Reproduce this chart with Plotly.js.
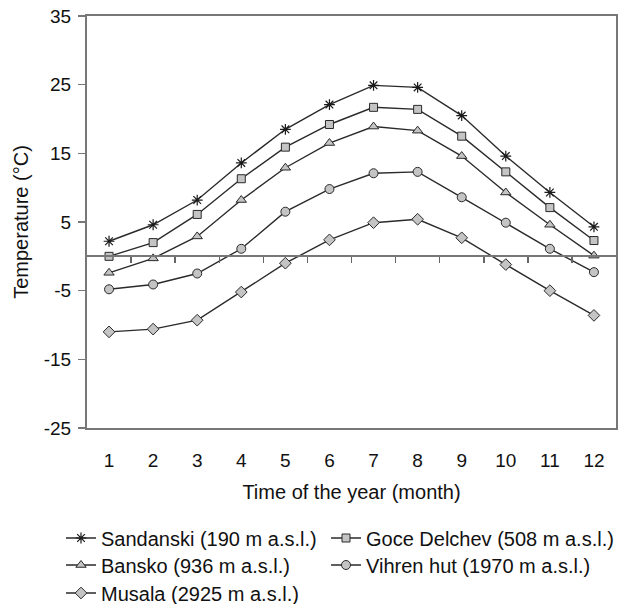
<!DOCTYPE html>
<html>
<head>
<meta charset="utf-8">
<script src="https://cdn.plot.ly/plotly-3.0.1.min.js"></script>
<style>html,body{margin:0;padding:0;background:#fff;}#chart{width:625px;height:604px;}</style>
</head>
<body>
<div id="chart"></div>
<script>
const months = [1, 2, 3, 4, 5, 6, 7, 8, 9, 10, 11, 12];
const monthLabels = ["1","2","3","4","5","6","7","8","9","10","11","12"];
const sandanski   = [2.2, 4.6, 8.2, 13.6, 18.5, 22.1, 24.9, 24.6, 20.5, 14.6, 9.3, 4.3];
const goceDelchev = [0.0, 2.0, 6.1, 11.3, 15.9, 19.2, 21.7, 21.4, 17.5, 12.3, 7.1, 2.3];
const bansko      = [-2.4, -0.3, 2.9, 8.2, 12.9, 16.5, 18.9, 18.3, 14.6, 9.3, 4.6, 0.1];
const vihrenHut   = [-4.8, -4.1, -2.5, 1.1, 6.5, 9.8, 12.1, 12.3, 8.6, 4.9, 1.1, -2.3];
const musala      = [-11.0, -10.6, -9.3, -5.2, -1.0, 2.4, 4.9, 5.4, 2.7, -1.2, -5.0, -8.6];
const names = ["Sandanski (190 m a.s.l.)", "Goce Delchev (508 m a.s.l.)", "Bansko (936 m a.s.l.)", "Vihren hut (1970 m a.s.l.)", "Musala (2925 m a.s.l.)"];
const yTicks = [-25, -15, -5, 5, 15, 25, 35];
const yTickLabels = ["-25", "-15", "-5", "5", "15", "25", "35"];

const FONT = "Liberation Sans, Arial, sans-serif";
const lineStyle = {color: "#2a2a2a", width: 1.4};
const fill = "#c4c4c4";

function tr(y, name, symbol, legend, extraMarker) {
  return {
    x: months, y: y, name: name, type: "scatter", mode: "lines+markers",
    line: lineStyle, legend: legend,
    marker: Object.assign({symbol: symbol, size: 8, color: fill, line: {color: "#2a2a2a", width: 1}}, extraMarker || {})
  };
}

const data = [
  tr(sandanski, names[0], "asterisk-open", "legend", {color: "#1a1a1a", size: 9, line: {color: "#1a1a1a", width: 1.2}}),
  tr(goceDelchev, names[1], "square", "legend2"),
  tr(bansko, names[2], "triangle-up", "legend3", {size: 9}),
  tr(vihrenHut, names[3], "circle", "legend4", {size: 9}),
  tr(musala, names[4], "diamond", "legend5", {size: 9}),
  {x: [months[0]], y: [null], xaxis: "x2", yaxis: "y", type: "scatter", mode: "markers", showlegend: false, hoverinfo: "skip"}
];

const legendCommon = {orientation: "h", xanchor: "left", yanchor: "middle", font: {family: FONT, size: 20, color: "#111"},
  bgcolor: "rgba(0,0,0,0)", itemwidth: 30, tracegroupgap: 0};
function leg(px, py) {
  return Object.assign({}, legendCommon, {x: (px - 87) / 529, y: (428 - py) / 412});
}

const layout = {
  width: 625, height: 604,
  margin: {l: 87, r: 9, t: 16, b: 176, autoexpand: false},
  paper_bgcolor: "#ffffff", plot_bgcolor: "#ffffff",
  font: {family: FONT, color: "#111"},
  showlegend: true,
  xaxis: {
    range: [0.5, 12.5], tickvals: months, ticktext: monthLabels, ticks: "", ticklabelstandoff: 14,
    showgrid: false, zeroline: false, showline: true, mirror: true, linecolor: "#777777", linewidth: 2,
    tickfont: {family: FONT, size: 19, color: "#111"},
    title: {text: "Time of the year (month)", font: {family: FONT, size: 20, color: "#111"}, standoff: 15},
    automargin: false
  },
  xaxis2: {
    overlaying: "x", anchor: "free", position: 25 / 60, side: "bottom",
    range: [0.5, 12.5], tickvals: months.slice(0, -1).map(m => m + 0.5), showticklabels: false,
    ticks: "outside", ticklen: 6, tickwidth: 1.5, tickcolor: "#666666",
    showgrid: false, zeroline: false, showline: true, linecolor: "#777777", linewidth: 2
  },
  yaxis: {
    range: [-25, 35], tickvals: yTicks, ticktext: yTickLabels, ticks: "outside", ticklen: 7, tickwidth: 1.5, tickcolor: "#777777",
    ticklabelstandoff: 3,
    showgrid: false, zeroline: false, showline: true, mirror: true, linecolor: "#777777", linewidth: 2,
    tickfont: {family: FONT, size: 19, color: "#111"},
    title: {text: "Temperature (°C)", font: {family: FONT, size: 20, color: "#111"}, standoff: 10},
    automargin: false
  },
  legend:  leg(61, 538),
  legend2: leg(326, 538),
  legend3: leg(61, 565),
  legend4: leg(326, 565),
  legend5: leg(61, 593)
};

Plotly.newPlot("chart", data, layout, {displayModeBar: false, staticPlot: true});
</script>
</body>
</html>
